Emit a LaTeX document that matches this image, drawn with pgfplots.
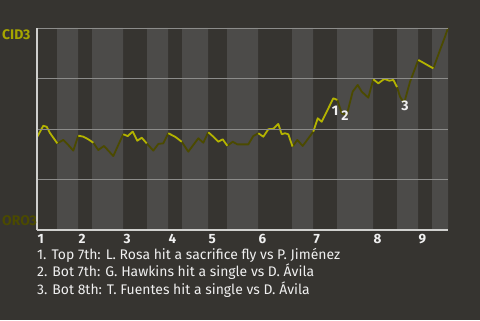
\documentclass[border=0pt]{standalone}
\usepackage{pgfplots}
\pgfplotsset{compat=1.18}
\usepackage{fontspec}
\setmainfont{Fira Sans}
\definecolor{bg}{HTML}{363430}
\definecolor{band}{HTML}{4C4B49}
\definecolor{gridc}{HTML}{8C8C8A}
\definecolor{axisc}{HTML}{D0D0CE}
\definecolor{yel}{HTML}{B4B400}
\definecolor{oli}{HTML}{4B4A00}
\definecolor{cidc}{HTML}{A6A600}
\definecolor{txt}{HTML}{F0F0F0}
\begin{document}
\begin{tikzpicture}[x=1bp,y=1bp]
\fill[bg] (0,0) rectangle (480,320);
\useasboundingbox (0,0) rectangle (480,320);
\begin{axis}[at={(37bp,90bp)}, anchor=south west, scale only axis,
  width=411bp, height=202bp, xmin=37, xmax=448, ymin=0, ymax=1,
  clip=false, axis on top,
  axis x line*=bottom, axis y line*=left,
  axis line style={axisc, line width=1.2bp, -},
  ytick={0.25,0.5,0.75,1}, yticklabels={}, ymajorgrids,
  grid style={gridc, line width=0.9bp},
  major tick length=0pt,
  xtick={37,78,123,168,208,258,313,373,418},
  xticklabels={1,2,3,4,5,6,7,8,9},
  x tick label style={anchor=north west, inner sep=0pt, yshift=-4bp, xshift=0.5bp,
    font=\fontsize{13.5}{13.5}\selectfont\bfseries, text=txt},
  unbounded coords=jump]
\addplot[const plot, fill=band, draw=none] coordinates {(37,0)(57,1)(78,0)(92,1)(123,0)(147,1)(168,0)(182,1)(208,0)(227,1)(258,0)(292,1)(313,0)(337,1)(373,0)(397,1)(418,0)(432,1)(448,1)} \closedcycle;
\addplot[oli, line width=1.8bp, line join=round] coordinates {
(57.3,0.429)(63.3,0.446)(68.3,0.421)(73.3,0.393)(78.3,0.467)
(80,nan)
(93.3,0.432)(98.3,0.396)(104,0.416)(113.3,0.366)(119.3,0.432)(123.3,0.474)
(125,nan)
(146.7,0.429)(153.3,0.393)(158.3,0.426)(163.3,0.429)(168.3,0.479)
(170,nan)
(181.7,0.437)(188.3,0.388)(198.3,0.454)(203.3,0.432)(208.3,0.484)
(210,nan)
(227.3,0.417)(232.7,0.437)(237.3,0.424)(248.3,0.424)(253.3,0.465)(258.3,0.479)
(260,nan)
(292.5,0.413)(297.3,0.446)(302.7,0.416)(313.3,0.487)
(315,nan)
(337.3,0.644)(341.7,0.578)(346.7,0.569)(352.7,0.685)(357.7,0.718)(361.7,0.685)(368.3,0.655)(373.3,0.746)
(375,nan)
(397,0.708)(400,0.660)(403.3,0.635)(405,0.644)(410,0.734)(418.3,0.842)
(420,nan)
(433.3,0.800)(440,0.891)(445,0.957)(448,1.0)
};
\addplot[yel, line width=1.8bp, line join=round] coordinates {
(37.3,0.462)(43.3,0.516)(46.7,0.511)(50,0.480)(57.3,0.429)
(60,nan)
(78.3,0.467)(83.3,0.462)(88.3,0.449)(93.3,0.432)
(95,nan)
(123.3,0.474)(127.7,0.465)(132.7,0.487)(137.3,0.442)(141.7,0.457)(146.7,0.429)
(150,nan)
(168.3,0.479)(175,0.462)(181.7,0.437)
(185,nan)
(208.3,0.484)(213.3,0.462)(218.3,0.437)(222.7,0.449)(227.3,0.417)
(230,nan)
(258.3,0.479)(263.3,0.462)(268.3,0.499)(273.3,0.501)(278.3,0.525)(281.7,0.474)(285,0.479)(288.3,0.474)(292.5,0.413)
(295,nan)
(313.3,0.487)(317.7,0.553)(321.7,0.536)(333.3,0.652)(337.3,0.644)
(340,nan)
(373.3,0.746)(378.3,0.726)(384.3,0.748)(389.3,0.739)(393.3,0.743)(397,0.708)
(400,nan)
(418.3,0.842)(433.3,0.800)
};
\node[text=txt, font=\fontsize{14}{14}\selectfont\bfseries, inner sep=0pt] at (axis cs:335,0.589) {1};
\node[text=txt, font=\fontsize{14}{14}\selectfont\bfseries, inner sep=0pt] at (axis cs:345,0.564) {2};
\node[text=txt, font=\fontsize{14}{14}\selectfont\bfseries, inner sep=0pt] at (axis cs:405,0.614) {3};
\end{axis}
\node[anchor=west, inner sep=0pt, text=cidc, font=\fontsize{14}{14}\selectfont\bfseries] at (2,285) {CID3};
\node[anchor=west, inner sep=0pt, text=oli, font=\fontsize{14}{14}\selectfont\bfseries] at (2,99) {ORO3};
\node[anchor=base west, inner sep=0pt, text=txt, font=\fontsize{14}{14}\selectfont] at (37,61) {1. Top 7th: L. Rosa hit a sacrifice fly vs P. Jiménez};
\node[anchor=base west, inner sep=0pt, text=txt, font=\fontsize{14}{14}\selectfont] at (37,43.5) {2. Bot 7th: G. Hawkins hit a single vs D. Ávila};
\node[anchor=base west, inner sep=0pt, text=txt, font=\fontsize{14}{14}\selectfont] at (37,26) {3. Bot 8th: T. Fuentes hit a single vs D. Ávila};
\end{tikzpicture}
\end{document}
